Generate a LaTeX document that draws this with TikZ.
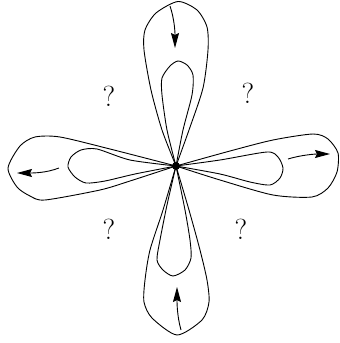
\documentclass[tikz,border=0pt]{standalone}
\usetikzlibrary{arrows.meta}
\begin{document}
\begin{tikzpicture}[x=1pt,y=-1pt,
  lobe/.style={line width=0.9pt, line join=round},
  flow/.style={line width=0.9pt, -{Stealth[length=15pt,width=8pt,inset=2pt]}},
  qm/.style={font=\fontsize{29}{29}\selectfont, inner sep=0pt}]
\useasboundingbox (0,0) rectangle (340,343);
% top lobe
\draw[lobe] plot[smooth, tension=0.45] coordinates {(176,166) (162,130) (151,90) (144,50) (145,30) (156,13) (178,1.5) (197,10) (207,27) (208,50) (203,88) (189,130) (176,166)};
\draw[lobe] plot[smooth, tension=0.45] coordinates {(176,166) (167,130) (162,95) (162,78) (170,66) (178,61) (187,65) (193,75) (192,95) (183,130) (176,166)};
% bottom lobe
\draw[lobe] plot[smooth, tension=0.45] coordinates {(176,166) (163,210) (150,250) (145,280) (144,302) (152,318) (177,335) (202,320) (209,302) (207,280) (200,250) (189,210) (176,166)};
\draw[lobe] plot[smooth, tension=0.45] coordinates {(176,166) (167,205) (160,240) (157,260) (163,270) (173,276) (185,270) (191,258) (190,240) (185,210) (176,166)};
% left lobe
\draw[lobe] plot[smooth, tension=0.45] coordinates {(176,166) (110,149) (60,137) (35,137) (20,146) (8,168) (17,187) (30,196) (45,200) (100,190) (130,181) (176,166)};
\draw[lobe] plot[smooth, tension=0.45] coordinates {(176,166) (130,160) (97,149) (81,150) (71,157) (68,167) (75,177) (86,183) (105,181) (135,174) (176,166)};
% right lobe
\draw[lobe] plot[smooth, tension=0.45] coordinates {(176,166) (230,151) (273,140) (313,134) (328,139) (338,153) (337,172) (328,188) (312,197) (273,195) (220,180) (176,166)};
\draw[lobe] plot[smooth, tension=0.45] coordinates {(176,166) (220,160) (267,152) (278,157) (283,168) (280,178) (270,185) (250,182) (220,174) (176,166)};
% centre
\node[circle, fill, inner sep=0pt, minimum size=8pt] (c) at (176,166) {};
% arrows
\coordinate (ta) at (170,6);   \coordinate (tb) at (175,48);
\coordinate (ba) at (181,330); \coordinate (bb) at (177,287);
\coordinate (la) at (59,168);  \coordinate (lb) at (17,173);
\coordinate (ra) at (288,159); \coordinate (rb) at (330,154);
\draw[flow] (ta) .. controls (174,18) and (175,30) .. (tb);
\draw[flow] (ba) .. controls (177,316) and (177,302) .. (bb);
\draw[flow] (la) .. controls (46,173) and (33,173) .. (lb);
\draw[flow] (ra) .. controls (301,155) and (315,154) .. (rb);
% question marks
\node[qm] (q1) at (109,96) {?};
\node[qm] (q2) at (248,93) {?};
\node[qm] (q3) at (109,229) {?};
\node[qm] (q4) at (241,229) {?};
\end{tikzpicture}
\end{document}
